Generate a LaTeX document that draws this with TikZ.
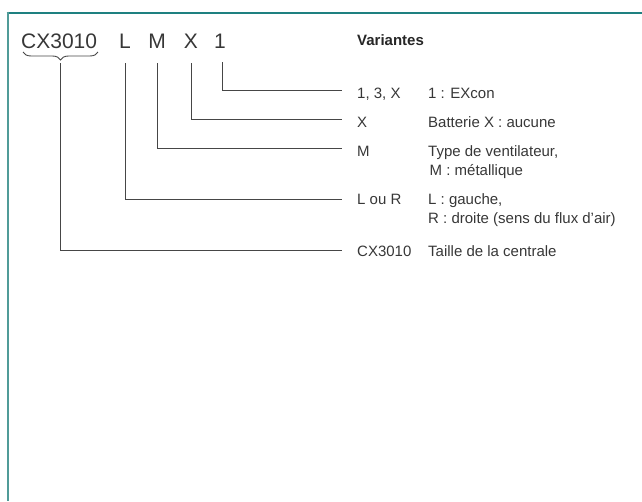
\documentclass[tikz,border=0pt]{standalone}
\usepackage{fontspec}
\setmainfont{Liberation Sans}
\usetikzlibrary{decorations.pathreplacing}
\definecolor{frameteal}{RGB}{30,128,128}
\definecolor{frameleft}{RGB}{80,155,152}
\definecolor{linegray}{RGB}{70,70,70}
\definecolor{txtgray}{RGB}{55,55,55}
\tikzset{
  titletxt/.style={inner sep=0pt, anchor=base, font=\fontsize{21}{25}\selectfont, text=txtgray},
  labtxt/.style={inner sep=0pt, anchor=base west, font=\fontsize{15}{19}\selectfont, text=txtgray},
  conn/.style={draw=linegray, line width=1pt},
  bracestyle/.style={draw=linegray, line width=0.9pt, decorate, decoration={brace, mirror, amplitude=8pt}}
}
\begin{document}
\begin{tikzpicture}[x=1pt,y=-1pt]
\useasboundingbox (0,0) rectangle (642,501);
% frame
\draw[frameteal, line width=2pt] (6.5,12.5) -- (642,12.5);
\draw[frameleft, line width=2pt] (7.5,11.5) -- (7.5,501);
% title
\node[titletxt, anchor=base west] (cx) at (21,48) {CX3010};
\node[titletxt] (l) at (125,48) {L};
\node[titletxt] (m) at (157,48) {M};
\node[titletxt] (x) at (191,48) {X};
\node[titletxt] (one) at (220,48) {1};
% heading
\node[labtxt, font=\fontsize{15}{19}\selectfont\bfseries, text=black!85] (var) at (357,45) {Variantes};
% labels
\node[labtxt] (k1) at (357,98) {1, 3, X};
\node[labtxt] (d1) at (428,98) {1 : EXcon};
\node[labtxt] (k2) at (357,127) {X};
\node[labtxt] (d2) at (428,127) {Batterie X : aucune};
\node[labtxt] (k3) at (357,156) {M};
\node[labtxt] (d3) at (428,156) {Type de ventilateur,};
\node[labtxt] (d3b) at (429.5,175) {M : métallique};
\node[labtxt] (k4) at (357,204) {L ou R};
\node[labtxt] (d4) at (428,204) {L : gauche,};
\node[labtxt] (d4b) at (428,223) {R : droite (sens du flux d’air)};
\node[labtxt] (k5) at (357,256) {CX3010};
\node[labtxt] (d5) at (428,256) {Taille de la centrale};
% connector end points
\coordinate (e1) at (342,90);
\coordinate (e2) at (342,119);
\coordinate (e3) at (342,148);
\coordinate (e4) at (342,199);
\coordinate (e5) at (342,250);
% brace
\draw[bracestyle] (23,52) -- (98,52);
\coordinate (bt) at (60.5,63);
% connectors
\draw[conn] (222,62) |- (e1);
\draw[conn] (x.south |- 0,63) |- (e2);
\draw[conn] (m.south |- 0,63) |- (e3);
\draw[conn] (l.south |- 0,63) |- (e4);
\draw[conn] (bt) |- (e5);
\end{tikzpicture}
\end{document}
